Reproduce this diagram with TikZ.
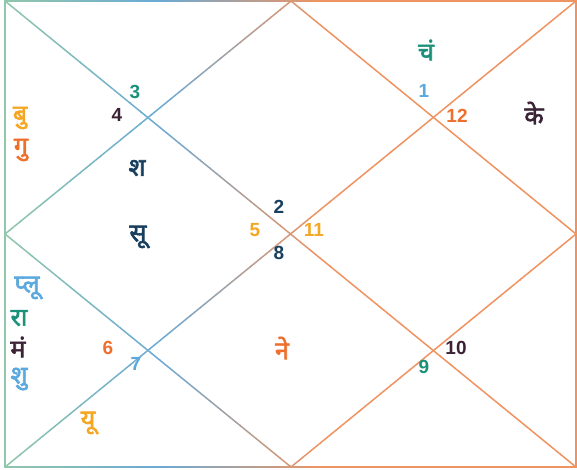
\documentclass[tikz,border=0pt]{standalone}
\usepackage{fontspec}
\setmainfont{Liberation Sans}
\newfontfamily\devfont[Script=Devanagari,FakeBold=2.5]{Noto Sans}
\usetikzlibrary{calc}

\definecolor{lineA}{HTML}{93C8A8}
\definecolor{lineB}{HTML}{6AAAD6}
\definecolor{lineC}{HTML}{EE9462}
\definecolor{tealc}{HTML}{1B9179}
\definecolor{darkc}{HTML}{3B2335}
\definecolor{navyc}{HTML}{183F5E}
\definecolor{yelc}{HTML}{F5A623}
\definecolor{redc}{HTML}{EE6F2D}
\definecolor{bluec}{HTML}{5BA8DE}

\tikzset{
  num/.style={font=\fontsize{19}{20}\selectfont\bfseries, inner sep=0pt},
  grah/.style={font=\fontsize{25}{28}\selectfont\devfont, inner sep=0pt},
  frame/.style={line width=2.5pt},
  house/.style={line width=1.5pt}
}

\begin{document}
\begin{tikzpicture}[x=1pt,y=-1pt]
  \useasboundingbox (0,0) rectangle (577,470);
  % corners and mid points of the chart
  \coordinate (tl) at (5,1);
  \coordinate (tr) at (576,1);
  \coordinate (br) at (576,467);
  \coordinate (bl) at (5,467);
  \coordinate (tm) at (291,1);
  \coordinate (bm) at (291,467);
  \coordinate (lm) at (5,234);
  \coordinate (rm) at (576,234);

  % lines, coloured strip by strip from left to right
  \foreach \s in {0,...,57} {
    \pgfmathtruncatemacro\pa{max(0,min(100,100-(\s*10+5)/1.6))}
    \pgfmathtruncatemacro\pb{max(0,min(100,100-(\s*10+5-160)/1.6))}
    \begin{scope}
      \clip (\s*10,0) rectangle ++(10.6,470);
      \draw[frame,lineA!\pa!lineB!\pb!lineC] (tl) rectangle (br);
      \draw[house,lineA!\pa!lineB!\pb!lineC] (tl) -- (br) (tr) -- (bl);
      \draw[house,lineA!\pa!lineB!\pb!lineC] (tm) -- (rm) -- (bm) -- (lm) -- cycle;
    \end{scope}
  }

  % house numbers
  \node[num,tealc] (n3) at (135,92) {3};
  \node[num,darkc] (n4) at (117,115) {4};
  \node[num,navyc] (n2) at (279,207) {2};
  \node[num,yelc] (n5) at (255,230) {5};
  \node[num,yelc] (n11) at (314,230) {11};
  \node[num,navyc] (n8) at (279,253) {8};
  \node[num,bluec] (n1) at (424,91) {1};
  \node[num,redc] (n12) at (457,116) {12};
  \node[num,redc] (n6) at (108,348) {6};
  \node[num,bluec] (n7) at (136,364) {7};
  \node[num,tealc] (n9) at (424,367) {9};
  \node[num,darkc] (n10) at (456,348) {10};

  % planets
  \node[grah,yelc] (bu) at (20,118) {बु};
  \node[grah,redc] (gu) at (21,150) {गु};
  \node[grah,navyc] (sha) at (137,168) {श};
  \node[grah,navyc] (su) at (138,237) {सू};
  \node[grah,tealc] (cha) at (426,50) {चं};
  \node[grah,darkc] (ke) at (534,113) {के};
  \node[grah,bluec] (plu) at (27,288) {प्लू};
  \node[grah,tealc] (ra) at (19,318) {रा};
  \node[grah,darkc] (ma) at (18,347) {मं};
  \node[grah,bluec] (shu) at (19,379) {शु};
  \node[grah,yelc] (yu) at (88,423) {यू};
  \node[grah,redc] (ne) at (282,348) {ने};
\end{tikzpicture}
\end{document}
